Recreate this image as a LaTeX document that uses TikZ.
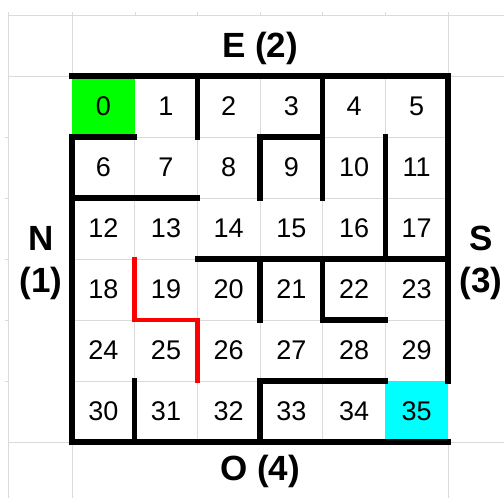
\documentclass[tikz,border=0pt]{standalone}
\usepackage{fontspec}
\setmainfont{Liberation Sans}
\definecolor{gridgray}{HTML}{DADADA}
\definecolor{startgreen}{HTML}{00FF00}
\definecolor{goalcyan}{HTML}{00FFFF}
\begin{document}
\begin{tikzpicture}[x=1pt, y=-1pt,
grid/.style={draw=gridgray, line width=1pt},
wall/.style={line width=5.5pt, line cap=rect},
redwall/.style={wall, draw=red, line width=4.5pt},
num/.style={font=\fontsize{27}{32}\selectfont},
side/.style={font=\fontsize{35}{42}\selectfont\bfseries, align=center}
]
\useasboundingbox (0,0) rectangle (504,498);
\draw[grid] (8,15) -- (504,15) (8,442) -- (504,442) (8,76) -- (72,76) (448,76) -- (504,76);
\draw[grid] (8,12) -- (8,498) (72,12) -- (72,76) (448,12) -- (448,76) (72,442) -- (72,498) (448,442) -- (448,498);
\foreach \x in {135,197,260,322,385} \draw[grid] (\x,12) -- (\x,15);
\foreach \y in {137,198,259,320,381} \draw[grid] (5,\y) -- (8,\y);
\begin{scope}[shift={(72,76)}, x=62.67pt, y=-61pt]
\foreach \k in {1,...,5} {\draw[grid] (\k,0) -- (\k,6); \draw[grid] (0,\k) -- (6,\k);}
\fill[startgreen] (0,0) rectangle (1,1);
\fill[goalcyan] (5,5) rectangle (6,6);
\foreach \i in {0,...,35} {\pgfmathtruncatemacro\col{mod(\i,6)}\pgfmathtruncatemacro\row{\i/6}
  \node[num] (n\i) at (\col+0.5,\row+0.5) {\i};}
\draw[wall] (0,1) -- (0,6) -- (6,6) (0,0) -- (6,0) -- (6,5) (0,1) -- (1,1);
\draw[wall] (2,0) -- (2,1) (0,2) -- (2,2) (4,0) -- (4,2) (3,2) -- (3,1) -- (4,1);
\draw[wall] (5,1) -- (5,3) (2,3) -- (6,3) (3,3) -- (3,4) (5,4) -- (4,4) -- (4,3);
\draw[wall] (1,5) -- (1,6) (3,6) -- (3,5) -- (5,5);
\draw[redwall] (1,3) -- (1,4) -- (2,4) -- (2,5);
\end{scope}
\node[side] (east) at (260,48) {E (2)};
\node[side] (west) at (260,471) {O (4)};
\node[side] (north) at (41,263) {N\\(1)};
\node[side] (south) at (481,263) {S\\(3)};
\end{tikzpicture}
\end{document}
